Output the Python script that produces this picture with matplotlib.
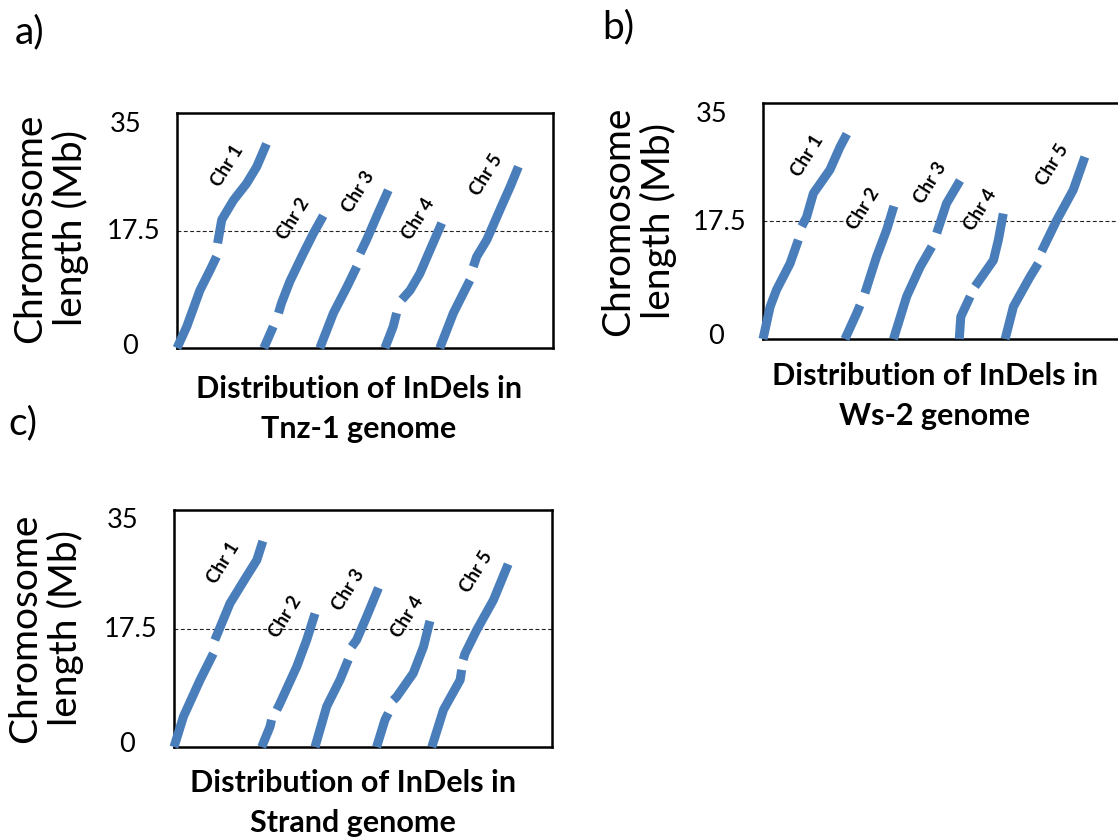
import numpy as np
import matplotlib
matplotlib.use("Agg")
import matplotlib.pyplot as plt

nan = np.nan

# ---------------------------------------------------------------- data
CHROMOSOMES = ["Chr 1", "Chr 2", "Chr 3", "Chr 4", "Chr 5"]
Y_TICKS = [35, 17.5, 0]
Y_TICK_LABELS = ["35", "17.5", "0"]
MIDLINE = 17.5

# x: cumulative InDel index (scaled 0-100), y: position on chromosome (Mb).
# nan splits each chromosome at its centromere gap.
TNZ1_X = [
    [0, 2.6, 6.1, 8.8, 10.5, nan, 10.8, 11.9, 15.0, 18.5, 21.2, 23.8],
    [23.1, 25.6, nan, 27.0, 27.8, 30.0, 33.6, 36.3, 38.9],
    [38.0, 41.6, 45.2, 47.8, nan, 48.7, 50.4, 53.1, 56.2],
    [55.3, 57.5, 58.4, nan, 59.8, 62.0, 64.6, 67.3, 70.4],
    [69.9, 73.5, 77.0, 77.9, nan, 78.8, 79.7, 82.4, 85.9, 88.6, 90.8],
]
TNZ1_Y = [
    [0, 3.2, 8.6, 11.6, 13.6, nan, 15.6, 19.1, 22.0, 24.5, 27.0, 30.4],
    [0, 3.2, nan, 5.2, 6.7, 9.9, 14.1, 17.1, 19.7],
    [0, 5.2, 9.1, 12.1, nan, 14.1, 16.1, 19.6, 23.5],
    [0, 3.2, 5.2, nan, 7.2, 8.6, 11.1, 14.6, 18.6],
    [0, 5.2, 9.1, 10.1, nan, 12.1, 13.6, 16.1, 20.6, 24.0, 27.0],
]

WS2_X = [
    [0, 1.9, 3.6, 7.2, 9.4, nan, 10.3, 11.6, 13.4, 17.8, 20.5, 22.3],
    [21.8, 24.9, 25.8, nan, 27.1, 30.2, 32.9, 34.8],
    [34.7, 38.2, 41.8, 44.9, nan, 46.2, 48.8, 52.4],
    [52.2, 52.6, 55.1, nan, 56.4, 61.3, 62.6, 63.9],
    [64.4, 66.6, 71.0, 73.2, nan, 74.1, 78.1, 82.5, 85.6],
]
WS2_Y = [
    [0, 4.8, 7.3, 11.2, 14.7, nan, 16.7, 18.1, 21.6, 25.1, 28.5, 30.4],
    [0, 3.8, 5.0, nan, 6.8, 12.2, 16.2, 19.7],
    [0, 6.3, 10.7, 13.7, nan, 15.7, 20.1, 23.5],
    [0, 3.3, 6.3, nan, 7.8, 11.7, 14.7, 18.6],
    [0, 4.8, 9.2, 11.2, nan, 13.0, 17.6, 22.1, 27.0],
]

STRAND_X = [
    [0, 2.5, 6.9, 10.4, nan, 10.8, 14.8, 19.2, 21.9, 23.5],
    [23.2, 25.4, 25.8, nan, 27.2, 28.0, 32.5, 35.1, 37.3],
    [37.3, 40.4, 43.9, 46.1, nan, 47.0, 48.3, 51.0, 54.1],
    [53.6, 55.8, 56.7, nan, 58.0, 58.9, 63.3, 66.0, 67.7],
    [68.2, 71.3, 75.7, 76.1, nan, 76.5, 77.0, 80.1, 84.5, 88.4],
]
STRAND_Y = [
    [0, 4.5, 9.9, 13.8, nan, 15.8, 21.2, 25.2, 27.6, 30.4],
    [0, 3.0, 4.0, nan, 5.5, 6.4, 11.9, 15.8, 19.7],
    [0, 6.0, 9.9, 12.9, nan, 14.8, 15.8, 19.3, 23.5],
    [0, 4.0, 5.0, nan, 6.9, 7.4, 10.9, 14.8, 18.6],
    [0, 5.5, 9.9, 11.4, nan, 12.9, 13.8, 17.3, 21.7, 27.0],
]

GENOMES = ["Tnz-1", "Ws-2", "Strand"]
PANEL_TAGS = ["a)", "b)", "c)"]

# ---------------------------------------------------------------- style
W, H = 1118, 840
BLUE = "#4A7EBB"
plt.rcParams["font.family"] = ["Lato", "DejaVu Sans"]

# label offsets (pixels) of each chromosome name from the chromosome's tip
NAME_OFFSETS = [(-39, -22), (-30, -3), (-30, -2), (-23, 4), (-32, -8)]

# axes boxes in pixels: left, top, right, bottom
BOXES = [(177, 113, 553, 348), (763, 103, 1139, 339), (174, 510, 552, 747)]
TAG_POS = [(15, 32), (602, 27), (8, 423)]
YLABEL_POS = [(51, 228), (639, 221), (46, 628)]
XLABEL_POS = [(359, 409), (935, 396), (353, 803)]

PX2PT = 72 / 100


def fig_xy(x, y):
    return x / W, 1 - y / H


fig = plt.figure(figsize=(W / 100, H / 100), dpi=100)
fig.patch.set_facecolor("white")

panels = [(TNZ1_X, TNZ1_Y), (WS2_X, WS2_Y), (STRAND_X, STRAND_Y)]

for i, ((xs, ys), box) in enumerate(zip(panels, BOXES)):
    l, t, r, b = box
    ax = fig.add_axes([l / W, 1 - b / H, (r - l) / W, (b - t) / H])
    ax.set_xlim(0, 100)
    ax.set_ylim(0, 35)
    ax.set_xticks([])
    ax.set_yticks([])
    for sp in ax.spines.values():
        sp.set_linewidth(1.8)
        sp.set_color("black")

    ax.axhline(MIDLINE, color="#222222", lw=0.8, ls=(0, (3.5, 2.2)), zorder=1)

    for k, (cx, cy) in enumerate(zip(xs, ys)):
        ax.plot(cx, cy, color=BLUE, lw=6.5, solid_capstyle="butt",
                solid_joinstyle="round", clip_on=False, zorder=3)
        dx, dy = NAME_OFFSETS[k]
        ax.annotate(CHROMOSOMES[k], xy=(cx[-1], cy[-1]),
                    xytext=(dx * PX2PT, dy * PX2PT), textcoords="offset points",
                    rotation=58, ha="center", va="center", fontsize=13.5,
                    fontweight="bold", color="black", zorder=4)

    # value labels on the left of the box
    ytr = ax.get_yaxis_transform()
    for val, lab in zip(Y_TICKS, Y_TICK_LABELS):
        if lab == "0":
            off, ha = (-39, 2), "right"
        elif val == max(Y_TICKS):
            off, ha = (-67, -11), "left"
        else:
            off, ha = (-70, -1), "left"
        ax.annotate(lab, xy=(0, val), xycoords=ytr,
                    xytext=(off[0] * PX2PT, off[1] * PX2PT),
                    textcoords="offset points", ha=ha, va="center",
                    fontsize=19.5, color="black", annotation_clip=False)

    tx, ty = TAG_POS[i]
    fig.text(*fig_xy(tx, ty), PANEL_TAGS[i], fontsize=28, ha="left",
             va="center")
    yx, yy = YLABEL_POS[i]
    fig.text(*fig_xy(yx, yy), "Chromosome\nlength (Mb)", rotation=90,
             fontsize=28, ha="center", va="center", multialignment="center",
             linespacing=1.12)
    xx, xy_ = XLABEL_POS[i]
    fig.text(*fig_xy(xx, xy_), f"Distribution of InDels in\n{GENOMES[i]} genome",
             fontsize=22, fontweight="bold", ha="center", va="center",
             multialignment="center", linespacing=1.5)

fig.savefig("out.png", dpi=100)
